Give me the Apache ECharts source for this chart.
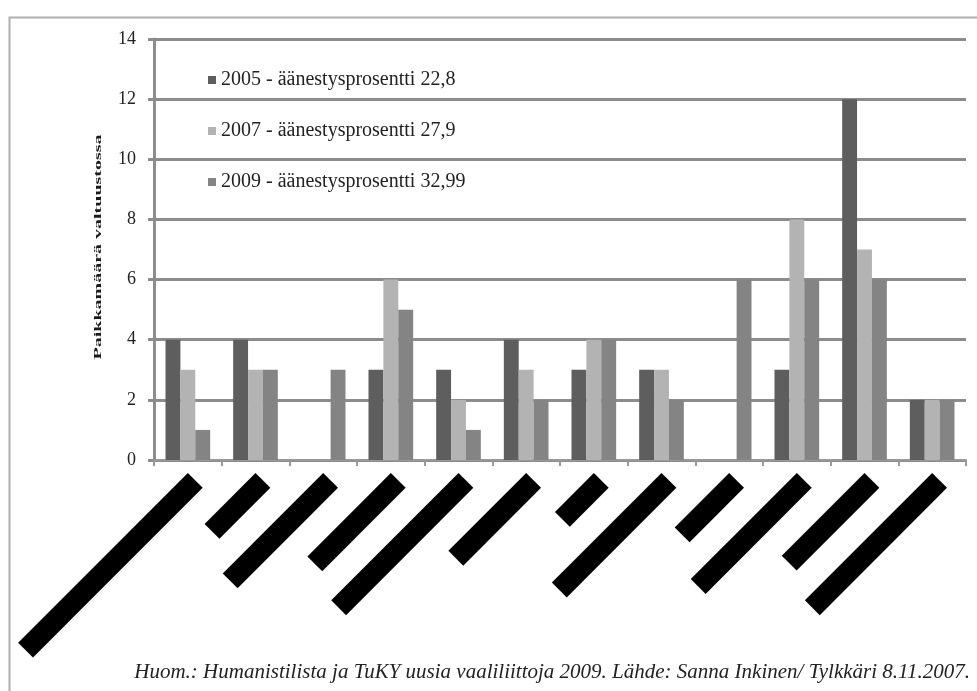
<!DOCTYPE html>
<html>
<head>
<meta charset="utf-8">
<script src="https://cdn.jsdelivr.net/npm/echarts@6/dist/echarts.min.js"></script>
<style>
html,body{margin:0;padding:0;background:#fff;}
#c{width:977px;height:691px;}
</style>
</head>
<body>
<div id="c"></div>
<script>
// ---- data ----
const categories = ['Lista 1','Lista 2','Lista 3','Lista 4','Lista 5','Lista 6','Lista 7','Lista 8','Lista 9','Lista 10','Lista 11','Lista 12'];
const seriesNames = ['2005 - äänestysprosentti 22,8','2007 - äänestysprosentti 27,9','2009 - äänestysprosentti 32,99'];
const values2005 = [4,4,0,3,3,4,3,3,0,3,12,2];
const values2007 = [3,3,0,6,2,3,4,3,0,8,7,2];
const values2009 = [1,3,3,5,1,2,4,2,6,6,6,2];
const yMin = 0, yMax = 14, yInterval = 2;
const yAxisTitle = 'Paikkamäärä valtuustossa';
const footnote = 'Huom.: Humanistilista ja TuKY uusia vaaliliittoja 2009. Lähde: Sanna Inkinen/ Tylkkäri 8.11.2007.';

// ---- style (redaction box lengths for hidden category labels) ----
const redactLengths = [240,72,142,118,180,110,55,155,77,150,117,180];
const colors = ['#5e5e5e','#b3b3b3','#848484'];
const serif = '"Liberation Serif","DejaVu Serif",serif';

const rich = {};
redactLengths.forEach((w,i)=>{
  rich['r'+i] = {width:w, height:21, backgroundColor:'#000', color:'#000', fontSize:11, align:'right'};
});

const chart = echarts.init(document.getElementById('c'), null, {renderer:'canvas'});
const seriesData = [values2005, values2007, values2009];

chart.setOption({
  backgroundColor:'#fff',
  animation:false,
  color: colors,
  grid:{left:154, right:11, top:39, bottom:231, containLabel:false},
  legend:{
    orient:'vertical', left:203, top:65, itemGap:31,
    itemWidth:8, itemHeight:8, icon:'rect',
    textStyle:{fontFamily:serif, fontSize:20, color:'#222'},
    data: seriesNames
  },
  xAxis:{
    type:'category', data:categories,
    axisLine:{lineStyle:{color:'#999', width:2}},
    axisTick:{show:true, length:6, lineStyle:{color:'#999', width:2}},
    axisLabel:{
      interval:0, rotate:45, margin:13, verticalAlign:'top',
      formatter:(v, i)=>'{r'+i+'|'+v+'}',
      rich: rich
    }
  },
  yAxis:{
    type:'value', min:yMin, max:yMax, interval:yInterval,
    axisLine:{show:true, lineStyle:{color:'#8c8c8c', width:3}},
    axisTick:{show:true, length:6, lineStyle:{color:'#8c8c8c', width:3}},
    axisLabel:{fontFamily:serif, fontSize:18, color:'#222', margin:18},
    splitLine:{lineStyle:{color:'#8c8c8c', width:3}}
  },
  series: seriesNames.map((n,k)=>({
    name:n, type:'bar', data:seriesData[k],
    barGap:'0%', barCategoryGap:'34%',
    itemStyle:{color:colors[k]}
  })),
  graphic:[
    {type:'rect', left:7, top:15, shape:{x:0,y:0,width:1000,height:700}, style:{fill:'none', stroke:'#b0b0b0', lineWidth:2}, silent:true},
    {type:'text', x:98, y:247, rotation:Math.PI/2, scaleX:2.0,
      style:{text:yAxisTitle, font:'bold 10px '+serif, fill:'#1a1a1a', align:'center', verticalAlign:'middle'}},
    {type:'text', x:970, y:673, scaleX:1.05,
      style:{text:footnote, font:'italic 20px '+serif, fill:'#222', align:'right', verticalAlign:'middle'}}
  ]
});
</script>
</body>
</html>
